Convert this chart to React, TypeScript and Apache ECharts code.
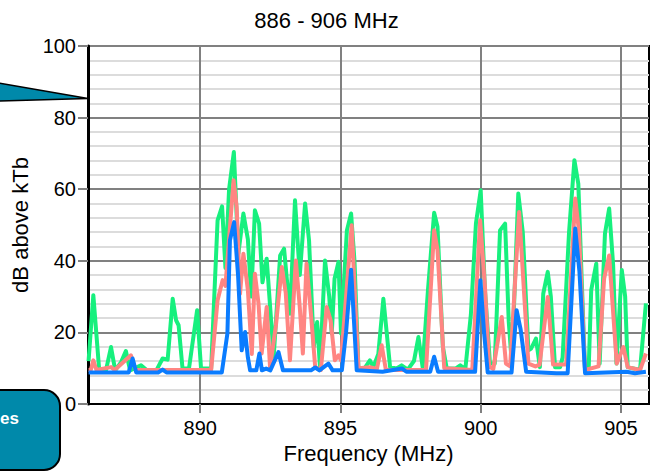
import React, { useEffect, useRef } from "react";
import * as echarts from "echarts";

const chartTitle = "886 - 906 MHz";
const xAxisName = "Frequency (MHz)";
const yAxisName = "dB above kTb";
const xTicks = [890, 895, 900, 905];

const greenFreq = [
  886.02, 886.19, 886.4, 886.64, 886.82, 886.97, 887.18, 887.35, 887.5, 887.89,
  888.1, 888.45, 888.66, 888.84, 889.02, 889.14, 889.23, 889.37, 889.6, 889.89,
  890.03, 890.39, 890.62, 890.78, 890.9, 891.03, 891.2, 891.36, 891.54, 891.7,
  891.82, 891.95, 892.1, 892.22, 892.37, 892.62, 892.85, 892.99, 893.2, 893.38,
  893.55, 893.74, 893.88, 894.05, 894.17, 894.27, 894.45, 894.6, 894.69, 894.79,
  894.93, 895.02, 895.23, 895.38, 895.5, 895.64, 895.85, 896.05, 896.17, 896.35,
  896.53, 896.77, 897.0, 897.18, 897.4, 897.62, 897.78, 897.93, 898.12, 898.34,
  898.46, 898.65, 898.79, 899.1, 899.27, 899.45, 899.65, 899.83, 900.0, 900.15,
  900.33, 900.5, 900.69, 900.87, 901.0, 901.11, 901.34, 901.5, 901.7, 901.8,
  901.97, 902.11, 902.23, 902.39, 902.5, 902.65, 902.83, 902.92, 903.15, 903.34,
  903.48, 903.6, 903.72, 903.85, 903.94, 904.12, 904.24, 904.43, 904.58, 904.72,
  904.84, 905.03, 905.15, 905.24, 905.68, 905.89,
];
const greenDb = [
  12, 30.4, 9.4, 9.4, 15.9, 9.4, 11.7, 14.8, 9.4, 10.8,
  9.4, 9.6, 12.7, 12.4, 29.4, 23.4, 22, 9.9, 9.9, 26.2,
  9.9, 9.9, 51.3, 55.2, 38, 60, 70.4, 42, 53.2, 46,
  30, 54.1, 50.4, 34, 40.6, 13.2, 41.5, 43.4, 25.2, 56.9,
  36, 56, 45.7, 15.9, 22.9, 10.3, 40.1, 30, 19.7, 35,
  39.7, 19.7, 48.5, 53.2, 40, 10.3, 9.9, 12.2, 10.3, 14,
  29.4, 10.3, 9.9, 10.8, 9.6, 12, 18.7, 10.3, 31.8, 53.4,
  49.5, 16, 9.9, 9.9, 10.8, 9.6, 25, 50.4, 59.7, 32,
  11.3, 11.3, 48.5, 50.4, 23, 11.3, 58.8, 48, 15, 15.5,
  18.3, 10.3, 30.8, 36.9, 30, 10.3, 10.3, 13, 48, 68.1,
  61.5, 35, 9.4, 9.9, 31.8, 39.2, 11.3, 47.6, 54.6, 39,
  11.3, 37.4, 30, 10.3, 9.5, 28.1,
];

const salmonFreq = [
  886.02, 886.1, 886.19, 886.3, 886.82, 886.95, 887.53, 887.7, 890.39, 890.62,
  890.8, 890.9, 891.19, 891.3, 891.42, 891.54, 891.7, 891.84, 891.95, 892.08,
  892.19, 892.37, 892.49, 892.7, 892.91, 893.05, 893.2, 893.41, 893.55, 893.66,
  893.79, 893.95, 894.1, 894.3, 894.51, 894.65, 894.8, 894.93, 895.02, 895.2,
  895.4, 895.55, 895.64, 896.05, 896.3, 896.47, 896.62, 898.05, 898.34, 898.46,
  898.7, 899.7, 899.98, 900.15, 900.3, 900.45, 900.75, 900.9, 901.05, 901.37,
  901.5, 901.7, 901.95, 902.1, 902.39, 902.58, 903.05, 903.37, 903.5, 903.72,
  904.2, 904.4, 904.58, 904.7, 904.85, 905.09, 905.24, 905.68, 905.89,
];
const salmonDb = [
  9.5, 9.5, 12.2, 9.5, 10.3, 9.5, 13.6, 9.5, 9.5, 29,
  34.6, 33, 62.5, 55, 30.8, 42, 31.8, 14, 36.4, 28,
  14.1, 27.1, 10.3, 22, 38.3, 31, 12.2, 40.1, 27, 14.1,
  39.2, 25, 10.3, 9.5, 27.1, 23.4, 12.2, 13.6, 12.2, 30,
  49.9, 25, 10, 10.3, 9.8, 16.4, 9.5, 9.5, 48.5, 43,
  10, 9.5, 51.3, 33, 10.5, 9.8, 24.3, 11.3, 10.5, 53.6,
  37, 11.3, 10.5, 11, 29.9, 11, 11, 57.4, 48.5, 9.5,
  10.5, 35, 41.5, 28, 11.3, 15.9, 10.3, 9.5, 14.1,
];

const blueFreq = [
  886.02, 887.45, 887.59, 887.72, 888.5, 888.66, 888.8, 890.77, 890.97, 891.06,
  891.21, 891.35, 891.48, 891.6, 891.7, 891.78, 892.0, 892.11, 892.2, 892.35,
  892.5, 892.79, 892.95, 893.95, 894.1, 894.25, 894.57, 894.72, 895.05, 895.2,
  895.38, 895.58, 896.5, 897.2, 897.35, 898.2, 898.34, 898.48, 899.8, 899.99,
  900.12, 900.25, 901.1, 901.28, 901.42, 901.62, 902.7, 903.1, 903.37, 903.52,
  903.72, 905.2, 905.5, 905.89,
];
const blueDb = [
  8.8, 8.8, 12.7, 8.8, 8.8, 9.6, 8.8, 8.8, 19.7, 45.7,
  50.8, 36, 15, 20.1, 13, 9.4, 9.4, 14.1, 9.4, 9.9,
  9.4, 14.5, 9.4, 9.4, 10.2, 9.4, 11.3, 9.4, 9.4, 20,
  37.5, 9.4, 9.0, 9.9, 9.0, 9.0, 13.2, 9.0, 9.0, 34.6,
  20, 8.8, 8.8, 26.2, 21, 9.0, 8.6, 8.6, 49, 37,
  8.6, 9, 8.6, 9,
];

const FONT = "'Liberation Sans', Arial, sans-serif";

function pairs(f: number[], v: number[]) {
  return f.map((x, i) => [x, v[i]]);
}

export default function App() {
  const ref = useRef<HTMLDivElement>(null);
  useEffect(() => {
    if (!ref.current) return;
    const chart = echarts.init(ref.current, null, { renderer: "svg" });
    const lineSeries = (name: string, data: number[][], color: string) => ({
      name,
      type: "line",
      data,
      symbol: "none",
      showSymbol: false,
      lineStyle: { color, width: 4, join: "round" },
      itemStyle: { color },
      clip: true,
    });
    chart.setOption({
      animation: false,
      backgroundColor: "#ffffff",
      textStyle: { fontFamily: FONT },
      title: {
        text: chartTitle,
        left: "center",
        top: 4,
        textStyle: { fontFamily: FONT, fontSize: 22, fontWeight: "normal", color: "#000" },
      },
      grid: {
        left: 88,
        right: 4,
        top: 46,
        bottom: 68,
        show: true,
        borderColor: "#000",
        borderWidth: 2,
        backgroundColor: "transparent",
      },
      xAxis: {
        type: "value",
        min: 886,
        max: 906,
        name: xAxisName,
        nameLocation: "middle",
        nameGap: 38,
        nameTextStyle: { fontFamily: FONT, fontSize: 22, color: "#000" },
        axisLine: { show: true, onZero: false, lineStyle: { color: "#000", width: 2 } },
        axisTick: { show: true, length: 9, customValues: xTicks, lineStyle: { color: "#808080", width: 2 } },
        axisLabel: { customValues: xTicks, margin: 14, fontSize: 20, color: "#000", fontFamily: FONT },
        splitLine: { show: true, lineStyle: { color: "#808080", width: 2 } },
      },
      yAxis: {
        type: "value",
        min: 0,
        max: 100,
        interval: 20,
        name: yAxisName,
        nameLocation: "middle",
        nameGap: 54,
        nameTextStyle: { fontFamily: FONT, fontSize: 22, color: "#000" },
        axisLine: { show: true, lineStyle: { color: "#000", width: 3 } },
        axisTick: { show: true, length: 10, lineStyle: { color: "#808080", width: 2 } },
        axisLabel: { margin: 12, fontSize: 20, color: "#000", fontFamily: FONT },
        splitLine: { show: true, lineStyle: { color: "#808080", width: 2 } },
        minorTick: { show: false, splitNumber: 5 },
        minorSplitLine: { show: true, lineStyle: { color: "#dcdcdc", width: 2 } },
      },
      series: [
        lineSeries("max", pairs(greenFreq, greenDb), "#17F07E"),
        lineSeries("avg", pairs(salmonFreq, salmonDb), "#FF8582"),
        lineSeries("min", pairs(blueFreq, blueDb), "#0A7CFF"),
      ],
      graphic: [
        {
          type: "polygon",
          z: 100,
          shape: { points: [[-2, 83], [88, 98.5], [-2, 101]] },
          style: { fill: "#0089AA", stroke: "#000", lineWidth: 1.5 },
        },
        {
          type: "rect",
          z: 100,
          shape: { x: -20, y: 390, width: 80, height: 80, r: 16 },
          style: { fill: "#0089AA", stroke: "#000", lineWidth: 2 },
        },
        {
          type: "text",
          z: 101,
          x: 0,
          y: 418,
          style: {
            text: "es",
            fill: "#fff",
            font: "bold 17px 'Liberation Sans', Arial, sans-serif",
            align: "left",
            verticalAlign: "middle",
          },
        },
      ],
    });
    return () => chart.dispose();
  }, []);
  return (
    <div
      ref={ref}
      style={{ position: "absolute", left: 0, top: 0, width: 653, height: 472 }}
    />
  );
}
